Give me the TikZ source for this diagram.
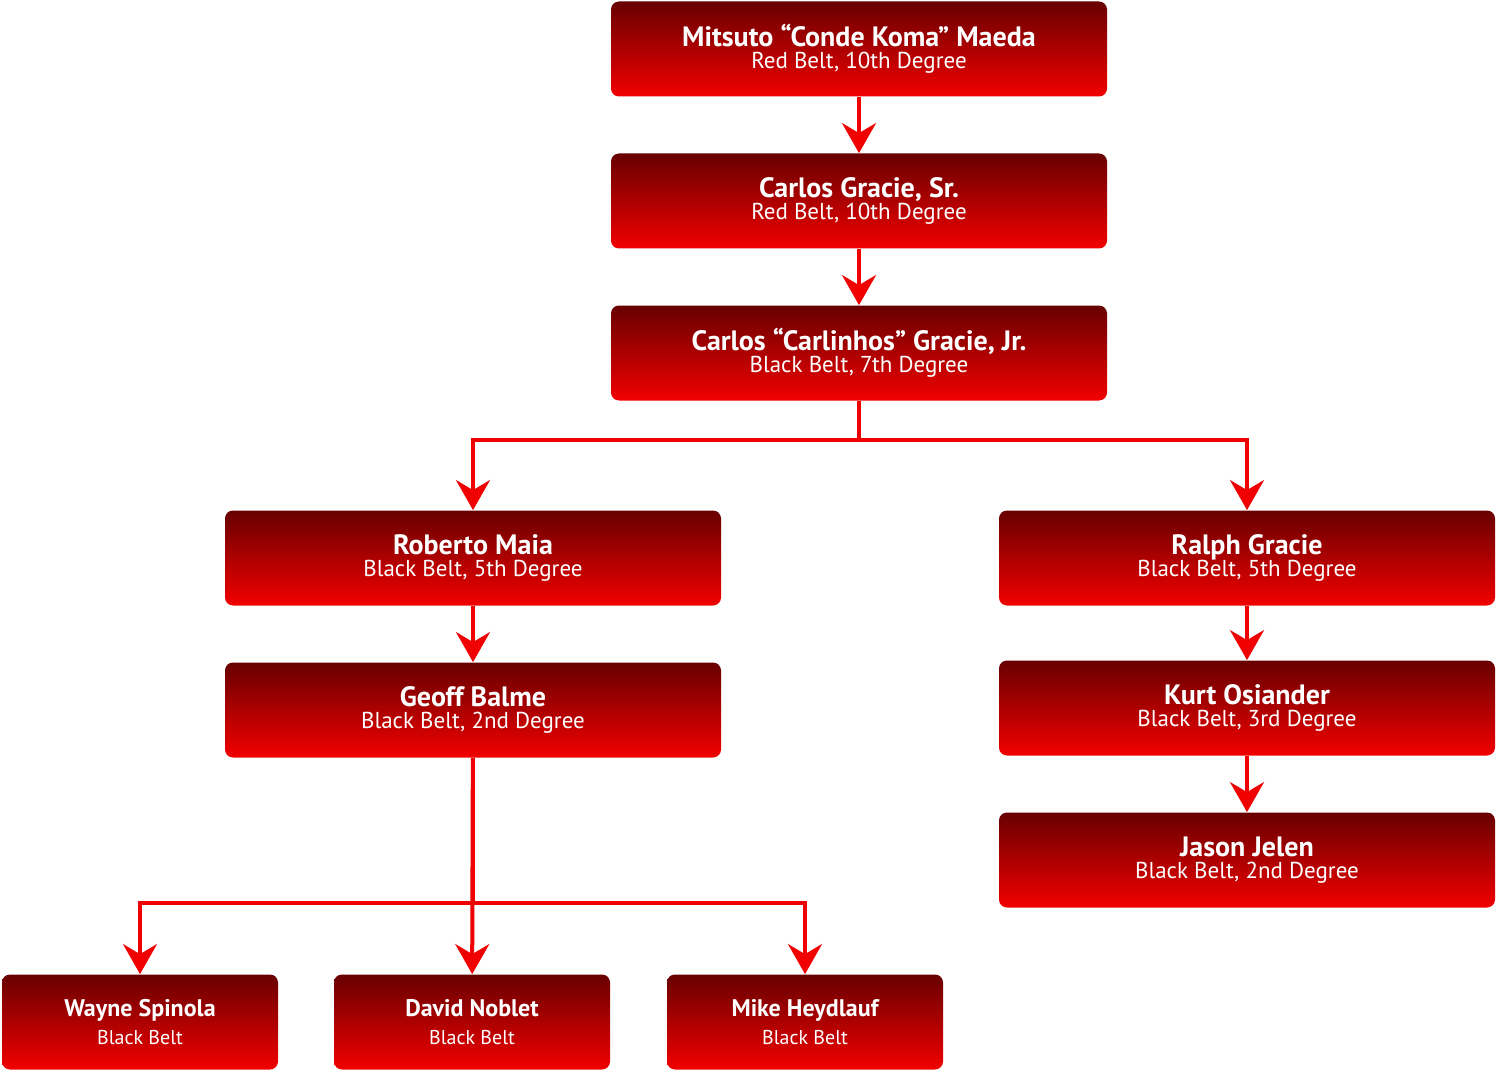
\documentclass[tikz,border=0pt]{standalone}
\usepackage{fontspec}
\setmainfont{PT Sans}
\usetikzlibrary{arrows.meta}
\definecolor{boxtop}{RGB}{104,0,0}
\definecolor{boxbot}{RGB}{242,0,0}
\definecolor{linered}{RGB}{240,0,0}
\tikzset{
  belt/.style={rounded corners=4pt,top color=boxtop,bottom color=boxbot,draw=none,
    text=white,align=center,minimum width=248pt,minimum height=47.5pt,inner sep=0pt},
  small belt/.style={belt,minimum width=138pt},
  conn/.style={draw=linered,line width=2pt,-{Stealth[length=15pt,width=17pt,inset=5pt]}}
}
\newcommand{\belttext}[2]{{\fontsize{14}{17}\selectfont\bfseries #1}\\[-1pt]{\fontsize{11.5}{14}\selectfont #2}}
\newcommand{\smalltext}[2]{{\fontsize{12}{15}\selectfont\bfseries #1}\\[2pt]{\fontsize{10}{12}\selectfont #2}}
\begin{document}
\begin{tikzpicture}[x=0.5pt,y=-0.5pt]
\useasboundingbox (0,0) rectangle (1496,1070);
% main line
\node[belt] (maeda) at (859,49) {\belttext{Mitsuto “Conde Koma” Maeda}{Red Belt, 10th Degree}};
\node[belt] (carlos) at (859,201) {\belttext{Carlos Gracie, Sr.}{Red Belt, 10th Degree}};
\node[belt] (junior) at (859,353) {\belttext{Carlos “Carlinhos” Gracie, Jr.}{Black Belt, 7th Degree}};
% left branch
\node[belt] (maia) at (473,558) {\belttext{Roberto Maia}{Black Belt, 5th Degree}};
\node[belt] (balme) at (473,710) {\belttext{Geoff Balme}{Black Belt, 2nd Degree}};
% right branch
\node[belt] (ralph) at (1247,558) {\belttext{Ralph Gracie}{Black Belt, 5th Degree}};
\node[belt] (kurt) at (1247,708) {\belttext{Kurt Osiander}{Black Belt, 3rd Degree}};
\node[belt] (jelen) at (1247,860) {\belttext{Jason Jelen}{Black Belt, 2nd Degree}};
% bottom row
\node[small belt] (spinola) at (140,1022) {\smalltext{Wayne Spinola}{Black Belt}};
\node[small belt] (noblet) at (472,1022) {\smalltext{David Noblet}{Black Belt}};
\node[small belt] (heydlauf) at (805,1022) {\smalltext{Mike Heydlauf}{Black Belt}};
% connectors
\draw[conn] (maeda) -- (carlos);
\draw[conn] (carlos) -- (junior);
\draw[conn] (junior.south) -- ++(0,39) -| (maia);
\draw[conn] (junior.south) -- ++(0,39) -| (ralph);
\draw[conn] (maia) -- (balme);
\draw[conn] (ralph) -- (kurt);
\draw[conn] (kurt) -- (jelen);
\draw[conn] (balme.south) -- ++(0,145) -| (spinola);
\draw[conn] (balme) -- (noblet);
\draw[conn] (balme.south) -- ++(0,145) -| (heydlauf);
\end{tikzpicture}
\end{document}
